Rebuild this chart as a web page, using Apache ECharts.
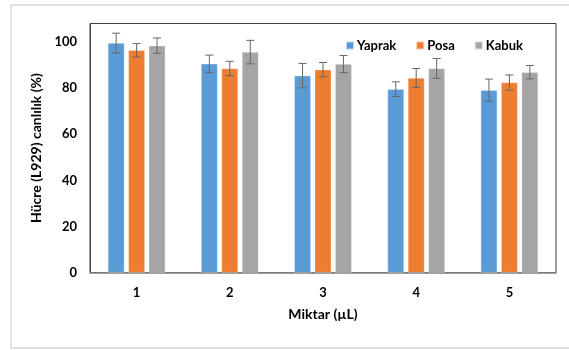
<!DOCTYPE html>
<html><head><meta charset="utf-8">
<script src="https://cdn.jsdelivr.net/npm/echarts@6/dist/echarts.min.js"></script>
<style>html,body{margin:0;padding:0;background:#fff}#c{width:569px;height:350px}</style>
</head><body><div id="c"></div>
<script>
var categories = ['1', '2', '3', '4', '5'];
var seriesNames = ['Yaprak', 'Posa', 'Kabuk'];
var yaprak = [99.5, 90.5, 85.4, 79.5, 79.1];
var posa = [96.4, 88.5, 88.0, 84.4, 82.4];
var kabuk = [98.4, 95.6, 90.4, 88.5, 86.9];
var yaprakErr = [4.3, 3.8, 5.3, 3.2, 4.8];
var posaErr = [2.9, 3.1, 3.1, 4.1, 3.3];
var kabukErr = [3.3, 5.1, 3.7, 4.3, 2.9];
var yTicks = [0, 20, 40, 60, 80, 100];

var colors = ['#5B9BD5', '#ED7D31', '#A5A5A5'];
var values = [yaprak, posa, kabuk];
var errs = [yaprakErr, posaErr, kabukErr];
var BAR_FRAC = 0.177, GAP_FRAC = 0.24;
var FONT = 'Lato';
var FW = 'bold';

var chart = echarts.init(document.getElementById('c'));
var series = [];
values.forEach(function (vals, si) {
  series.push({
    name: seriesNames[si], type: 'bar', data: vals,
    barWidth: (BAR_FRAC * 100) + '%', barGap: (GAP_FRAC * 100) + '%',
    itemStyle: { color: colors[si], borderColor: 'rgba(255,255,255,0.6)', borderWidth: 0.5 },
    z: 2
  });
});
values.forEach(function (vals, si) {
  series.push({
    type: 'custom', silent: true, z: 5,
    data: vals.map(function (v, i) { return [i, v - errs[si][i], v + errs[si][i]]; }),
    renderItem: function (params, api) {
      var cw = api.size([1, 0])[0];
      var bw = cw * BAR_FRAC, gap = bw * GAP_FRAC;
      var off = (si - 1) * (bw + gap);
      var lo = api.coord([api.value(0), api.value(1)]);
      var hi = api.coord([api.value(0), api.value(2)]);
      var x = lo[0] + off, hw = 4;
      var st = { stroke: '#666666', lineWidth: 1 };
      return { type: 'group', children: [
        { type: 'line', shape: { x1: x, y1: lo[1], x2: x, y2: hi[1] }, style: st },
        { type: 'line', shape: { x1: x - hw, y1: hi[1], x2: x + hw, y2: hi[1] }, style: st },
        { type: 'line', shape: { x1: x - hw, y1: lo[1], x2: x + hw, y2: lo[1] }, style: st }
      ]};
    },
    encode: { x: 0, y: [1, 2] }
  });
});

chart.setOption({
  animation: false,
  graphic: [{ type: 'rect', shape: { x: 11, y: 5, width: 600, height: 343 },
    style: { fill: 'none', stroke: '#d9d9d9', lineWidth: 1.5 }, z: -10 }],
  grid: { left: 90, right: 13, top: 23.5, bottom: 77.4, show: true, borderColor: '#404040', borderWidth: 1, backgroundColor: 'transparent' },
  legend: {
    data: seriesNames, top: 34, left: 340, itemWidth: 8, itemHeight: 8, itemGap: 19, icon: 'rect',
    textStyle: { fontFamily: FONT, fontWeight: FW, fontSize: 13, color: '#000', padding: [0, 0, 0, -2] }
  },
  xAxis: {
    type: 'category', data: categories,
    name: 'Miktar (µL)', nameLocation: 'middle', nameGap: 35,
    nameTextStyle: { fontFamily: FONT, fontWeight: FW, fontSize: 14, color: '#000' },
    axisLine: { lineStyle: { color: '#868686', width: 1.5 } },
    axisTick: { show: false },
    axisLabel: { fontFamily: FONT, fontWeight: FW, fontSize: 13, color: '#000', margin: 14 }
  },
  yAxis: {
    type: 'value', min: 0, max: 108, interval: 20,
    name: 'Hücre (L929) canlılık (%)', nameLocation: 'middle', nameGap: 39,
    nameTextStyle: { fontFamily: FONT, fontWeight: FW, fontSize: 14, color: '#000' },
    axisLine: { show: true, lineStyle: { color: '#404040', width: 1 } },
    axisTick: { show: false }, splitLine: { show: false },
    axisLabel: { fontFamily: FONT, fontWeight: FW, fontSize: 13, color: '#000', margin: 13, showMaxLabel: false,
      formatter: function (v) { return yTicks.indexOf(v) >= 0 ? String(v) : ''; } }
  },
  series: series
});
</script></body></html>
